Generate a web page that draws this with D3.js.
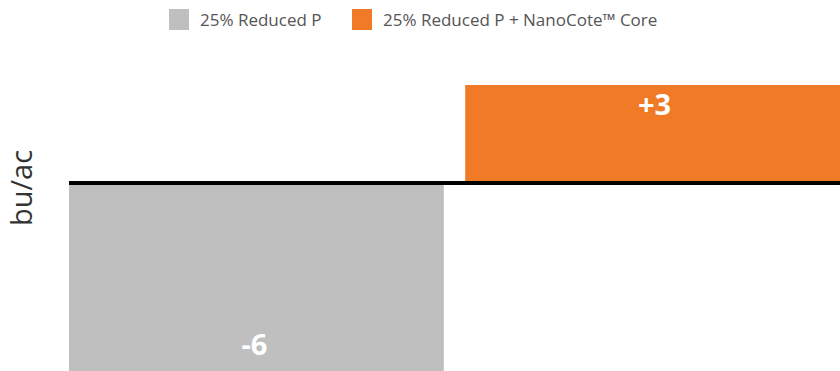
<!DOCTYPE html>
<html><head><meta charset="utf-8">
<script src="https://cdn.jsdelivr.net/npm/d3@7"></script>
<style>body{margin:0;background:#fff;overflow:hidden}svg{display:block}</style>
</head><body>
<svg id="c" width="840" height="371"></svg>
<script>
const categories = ["25% Reduced P", "25% Reduced P + NanoCote\u2122 Core"];
const values = [-6, 3];
const labels = ["-6", "+3"];
const colors = ["#bfbfbf", "#f07a26"];
const axisTitle = "bu/ac";

const svg = d3.select("#c");
const font = "'Open Sans', sans-serif";

const x = d3.scaleBand().domain(categories).range([69, 840]).paddingInner(0.054).paddingOuter(0);
const y = d3.scaleLinear().domain([-6, 3]).range([379, 85]);

// bars
svg.selectAll("rect.bar").data(categories).enter().append("rect")
  .attr("class", "bar")
  .attr("x", d => x(d))
  .attr("width", x.bandwidth())
  .attr("y", (d, i) => Math.min(y(values[i]), y(0)))
  .attr("height", (d, i) => Math.abs(y(values[i]) - y(0)))
  .attr("fill", (d, i) => colors[i]);

// value labels
svg.selectAll("text.val").data(categories).enter().append("text")
  .attr("class", "val")
  .attr("x", (d, i) => x(d) + x.bandwidth() / 2 + (values[i] >= 0 ? 2 : -2))
  .attr("y", (d, i) => values[i] >= 0 ? y(values[i]) + 30 : y(values[i]) - 24)
  .attr("text-anchor", "middle")
  .attr("font-family", font)
  .attr("font-weight", 700)
  .attr("font-size", 29)
  .attr("fill", "#fff")
  .text((d, i) => labels[i]);

// zero line
svg.append("line")
  .attr("x1", 69).attr("x2", 840)
  .attr("y1", y(0)).attr("y2", y(0))
  .attr("stroke", "#000").attr("stroke-width", 4);

// axis title
svg.append("text")
  .attr("transform", `translate(32,${y(0)+5}) rotate(-90)`)
  .attr("text-anchor", "middle")
  .attr("font-family", font)
  .attr("font-size", 29)
  .attr("fill", "#333")
  .text(axisTitle);

// legend
const legendX = [169, 352];
const lg = svg.selectAll("g.leg").data(categories).enter().append("g")
  .attr("class", "leg")
  .attr("transform", (d, i) => `translate(${legendX[i]},9)`);
lg.append("rect").attr("width", 20).attr("height", 21).attr("fill", (d, i) => colors[i]);
lg.append("text")
  .attr("x", 31).attr("y", 17)
  .attr("font-family", font)
  .attr("font-size", 17)
  .attr("fill", "#555")
  .text(d => d);
</script>
</body></html>
